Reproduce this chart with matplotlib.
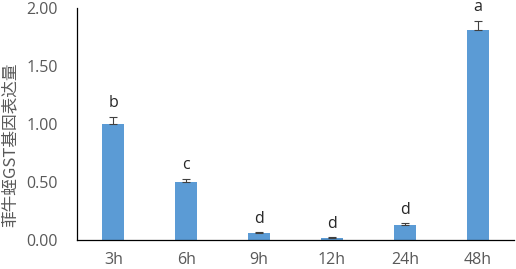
import matplotlib
matplotlib.use("Agg")
import matplotlib.pyplot as plt

categories = ["3h", "6h", "9h", "12h", "24h", "48h"]
values = [1.00, 0.50, 0.06, 0.02, 0.13, 1.81]
errors = [0.06, 0.03, 0.005, 0.005, 0.015, 0.08]
letters = ["b", "c", "d", "d", "d", "a"]
yticks = [0.0, 0.5, 1.0, 1.5, 2.0]
ylabel = "菲牛蛭GST基因表达量"

plt.rcParams['font.family'] = ['Open Sans', 'Noto Sans CJK SC', 'DejaVu Sans']

fig = plt.figure(figsize=(5.16, 2.69), dpi=100)
ax = fig.add_axes([77/516, 1-240/269, (514-77)/516, (240-8)/269])

x = list(range(len(categories)))
ax.bar(x, values, width=0.3, color="#5B9BD5", zorder=2)
ax.errorbar(x, values, yerr=[[0]*len(errors), errors], fmt="none",
            ecolor="#404040", elinewidth=0.8, capsize=3, capthick=0.8, zorder=3)
for xi, v, e, l in zip(x, values, errors, letters):
    ax.annotate(l, (xi, v + e), xytext=(0, 4), textcoords="offset points",
                ha="center", va="bottom", fontsize=11.5, color="#262626")

ax.set_xlim(-0.5, len(categories) - 0.5)
ax.set_ylim(0, 2.0)
ax.set_yticks(yticks)
ax.set_yticklabels([f"{t:.2f}" for t in yticks])
ax.set_xticks(x)
ax.set_xticklabels(categories)
ax.tick_params(axis="both", length=0, labelsize=11.5, colors="#595959")
ax.tick_params(axis="y", pad=14)
ax.tick_params(axis="x", pad=9)
for s in ["top", "right"]:
    ax.spines[s].set_visible(False)
for s in ["left", "bottom"]:
    ax.spines[s].set_color("#000000")
    ax.spines[s].set_linewidth(0.9)
ax.set_ylabel(ylabel, fontsize=12, color="#595959",
              family=['Noto Sans CJK SC', 'DejaVu Sans'])
ax.yaxis.set_label_coords(-58/437, 0.41)

fig.savefig("out.png", dpi=100)
